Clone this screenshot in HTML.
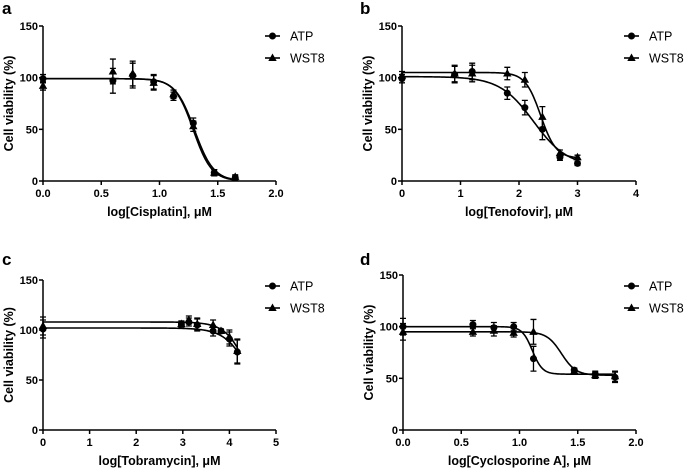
<!DOCTYPE html>
<html><head><meta charset="utf-8"><style>
body{margin:0;background:#fff;}
svg{display:block;font-family:"Liberation Sans",Arial,sans-serif;}
</style></head><body>
<svg id="fig" width="685" height="471" viewBox="0 0 685 471"></svg>
<script>
// Panel a: Cisplatin
const aX=[0,0.6,0.77,0.95,1.12,1.29,1.47,1.65];
const aATP=[99,97,102,96,82,56,8,3];
const aWST=[92,106,104,95,84,53,8,4];
const aErr=[4,12,12,7,4,5,3,2];
const aFitATP=[99,0,1.29,-5.5];
const aFitWST=[99,0,1.30,-5.3];
const aTicks=["0.0","0.5","1.0","1.5","2.0"];
// Panel b: Tenofovir
const bX=[0,0.9,1.2,1.8,2.1,2.4,2.7,3.0];
const bATP=[99,103,106,85,71,50,23,17];
const bWST=[102,104,104,104,98,62,27,23];
const bErr=[4,8,8,6,7,10,3,2];
const bFitATP=[101,14,2.25,-1.5];
const bFitWST=[105,22,2.37,-3.3];
const bTicks=["0","1","2","3","4"];
// Panel c: Tobramycin
const cX=[0,2.97,3.13,3.31,3.65,3.82,4.0,4.17];
const cATP=[101,106,108,105,99,99,91,78];
const cWST=[104,106,110,106,105,99,93,79];
const cErr=[9,3,4,6,5,2,7,12];
const cFitATP=[102,0,4.5,-1.6];
const cFitWST=[108,0,4.45,-1.8];
const cTicks=["0","1","2","3","4","5"];
// Panel d: Cyclosporine A
const dX=[0,0.6,0.78,0.95,1.12,1.47,1.65,1.82];
const dATP=[100,102,99,100,69,58,54,51];
const dWST=[95,95,96,94,95,57,53,52];
const dErr=[8,4,5,4,12,2,3,5];
const dFitATP=[100,54,1.11,-10];
const dFitWST=[95,53,1.36,-7];
const dTicks=["0.0","0.5","1.0","1.5","2.0"];
const yTicks=[0,50,100,150];

const NS="http://www.w3.org/2000/svg";
const svg=document.getElementById('fig');
function el(tag,attrs,parent){const e=document.createElementNS(NS,tag);for(const k in attrs)e.setAttribute(k,attrs[k]);(parent||svg).appendChild(e);return e;}

function panel(p){
  const g=el('g',{});
  
  
  const xs=v=>p.x0+(v-p.xmin)/(p.xmax-p.xmin)*(p.x1-p.x0);
  const ys=v=>p.y0-(v/150)*(p.y0-p.y150);
  const lab=el('text',{x:p.lx,y:p.ly,'font-size':17,'font-weight':'bold'},g);lab.textContent=p.id;
  
  const ya=el('line',{x1:p.x0,y1:p.y150,x2:p.x0,y2:p.y0,stroke:'#000','stroke-width':1.5},g);
  
  const xa=el('line',{x1:p.x0,y1:p.y0,x2:p.x1,y2:p.y0,stroke:'#000','stroke-width':1.5},g);
  
  yTicks.forEach(t=>{
    el('line',{x1:p.x0-4,y1:ys(t),x2:p.x0,y2:ys(t),stroke:'#000','stroke-width':1.5},g);
    const tx=el('text',{x:p.x0-5,y:ys(t)+4,'font-size':11,'font-weight':'bold','text-anchor':'end'},g);tx.textContent=t;
    
  });
  p.ticks.forEach((t,i)=>{
    const v=p.xmin+i*(p.xmax-p.xmin)/(p.ticks.length-1);
    el('line',{x1:xs(v),y1:p.y0,x2:xs(v),y2:p.y0+4,stroke:'#000','stroke-width':1.5},g);
    const tx=el('text',{x:xs(v),y:p.y0+16,'font-size':11,'font-weight':'bold','text-anchor':'middle'},g);tx.textContent=t;
    
  });
  const xt=el('text',{x:(p.x0+p.x1)/2,y:p.y0+35,'font-size':12.5,'font-weight':'bold','text-anchor':'middle'},g);xt.textContent=p.xlabel;
  
  const yc=(p.y0+p.y150)/2;
  const yt=el('text',{x:p.x0-30,y:yc,'font-size':12.5,'font-weight':'bold','text-anchor':'middle',transform:`rotate(-90 ${p.x0-30} ${yc})`},g);yt.textContent='Cell viability (%)';
  
  [[p.fitA,'fit-curve-atp'],[p.fitW,'fit-curve-wst8']].forEach(([f,n])=>{
    let d='';const xe=p.x[p.x.length-1];
    for(let i=0;i<=200;i++){const v=p.x[0]+(xe-p.x[0])*i/200;const yv=f[1]+(f[0]-f[1])/(1+Math.pow(10,(v-f[2])*(-f[3])));d+=(i?'L':'M')+xs(v).toFixed(2)+' '+ys(yv).toFixed(2);}
    const pa=el('path',{d:d,fill:'none',stroke:'#000','stroke-width':1.6},g);
    
  });
  function marker(cx,cy,type,parent){
    if(type==='c'){return el('circle',{cx:cx,cy:cy,r:3.5,fill:'#000'},parent);}
    return el('polygon',{points:`${cx},${cy-4.5} ${cx-4.2},${cy+3} ${cx+4.2},${cy+3}`,fill:'#000'},parent);
  }
  [[p.atp,'c','point-atp'],[p.wst,'t','point-wst8']].forEach(([arr,t,n])=>{
    arr.forEach((v,i)=>{
      const cx=xs(p.x[i]),cy=ys(v),e=p.err[i]*(p.y0-p.y150)/150;
      const eb=el('path',{d:`M${cx} ${cy-e}V${cy+e}M${cx-3} ${cy-e}H${cx+3}M${cx-3} ${cy+e}H${cx+3}`,stroke:'#000','stroke-width':1.3,fill:'none'},g);
      
      const m=marker(cx,cy,t,g);
      
    });
  });
  [['ATP','c',p.legY],['WST8','t',p.legY+22]].forEach(([txt,t,y])=>{
    const lg=el('g',{},g);
    
    el('line',{x1:p.legX,y1:y,x2:p.legX+15,y2:y,stroke:'#000','stroke-width':1.6},lg);
    marker(p.legX+7.5,y,t,lg);
    const tx=el('text',{x:p.legX+25,y:y+4.5,'font-size':12.5},lg);tx.textContent=txt;
  });
}
panel({id:'a',lx:2,ly:14,x0:43,x1:276,y0:181,y150:26,xmin:0,xmax:2,ticks:aTicks,xlabel:'log[Cisplatin], \u03bcM',x:aX,atp:aATP,wst:aWST,err:aErr,fitA:aFitATP,fitW:aFitWST,legX:265,legY:36});
panel({id:'b',lx:360,ly:14,x0:402,x1:636,y0:181,y150:26,xmin:0,xmax:4,ticks:bTicks,xlabel:'log[Tenofovir], \u03bcM',x:bX,atp:bATP,wst:bWST,err:bErr,fitA:bFitATP,fitW:bFitWST,legX:624,legY:36});
panel({id:'c',lx:2,ly:265,x0:43,x1:276,y0:430,y150:280,xmin:0,xmax:5,ticks:cTicks,xlabel:'log[Tobramycin], \u03bcM',x:cX,atp:cATP,wst:cWST,err:cErr,fitA:cFitATP,fitW:cFitWST,legX:265,legY:286});
panel({id:'d',lx:360,ly:265,x0:403,x1:636,y0:430,y150:275,xmin:0,xmax:2,ticks:dTicks,xlabel:'log[Cyclosporine A], \u03bcM',x:dX,atp:dATP,wst:dWST,err:dErr,fitA:dFitATP,fitW:dFitWST,legX:624,legY:286});
</script>
</body></html>
